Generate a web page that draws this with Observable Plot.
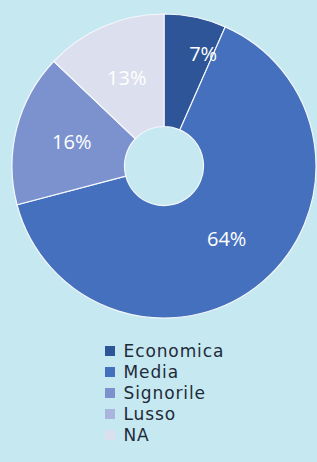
<!DOCTYPE html>
<html>
<head>
<meta charset="utf-8">
<script src="https://cdn.jsdelivr.net/npm/d3@7"></script>
<script src="https://cdn.jsdelivr.net/npm/@observablehq/plot@0.6"></script>
<style>
  html, body { margin: 0; padding: 0; background: #c6e8f0; }
  #chart { width: 317px; height: 462px; overflow: hidden; background: #c6e8f0; }
  #legend { padding-left: 105px; margin-top: 11px; }
  .lg-swatches { font-family: "DejaVu Sans", sans-serif; font-size: 17px; letter-spacing: 0.9px; color: #1e2b3a; margin: 0 !important; }
  .lg-swatch { height: 20.8px; padding-bottom: 0 !important; }
</style>
</head>
<body>
<div id="chart"><div id="plot"></div><div id="legend"></div></div>
<script>
const categories = ["Economica", "Media", "Signorile", "Lusso", "NA"];
const shares = [6.6, 64.3, 16.2, 0, 12.9];
const labels = ["7%", "64%", "16%", "", "13%"];
const colors = ["#2e5597", "#4570be", "#7b92cf", "#a9b5dd", "#dcdfee"];

const innerRatio = 0.26;
const data = categories.map((name, i) => ({name, value: shares[i], label: labels[i]}));
const pie = d3.pie().sort(null).value(d => d.value)(data);
const colorScale = Plot.scale({color: {type: "ordinal", domain: categories, range: colors}});

// label positions in unit-circle coordinates (centroid of each slice; small slices pushed outward)
const labelData = pie.filter(p => p.data.label).map(p => {
  const frac = (p.endAngle - p.startAngle) / (2 * Math.PI);
  const small = frac < 0.1;
  const a = small ? p.startAngle + 0.8 * (p.endAngle - p.startAngle) : (p.startAngle + p.endAngle) / 2;
  const rr = small ? 0.78 : (1 + innerRatio) / 2;
  return {label: p.data.label, x: rr * Math.sin(a), y: rr * Math.cos(a)};
});

function arcs(index, scales) {
  const cx = scales.x(0), cy = scales.y(0), R = scales.x(1) - cx;
  const arc = d3.arc().innerRadius(R * innerRatio).outerRadius(R);
  const g = d3.create("svg:g").attr("transform", `translate(${cx},${cy})`);
  g.selectAll("path").data(pie).join("path")
    .attr("d", arc)
    .attr("fill", d => colorScale.apply(d.data.name))
    .attr("stroke", "#f4f7fb")
    .attr("stroke-width", 1.2);
  return g.node();
}

const plot = Plot.plot({
  width: 317,
  height: 330,
  margin: 0,
  style: {background: "transparent", overflow: "visible"},
  x: {domain: [-1, 1], range: [12, 316], axis: null},
  y: {domain: [-1, 1], range: [318, 14], axis: null},
  marks: [
    arcs,
    Plot.text(labelData, {
      x: "x", y: "y", text: "label",
      fill: "white", fontSize: 20, fontWeight: 400, fontFamily: "Open Sans", letterSpacing: 2.2
    })
  ]
});
document.getElementById("plot").appendChild(plot);

const legend = Plot.legend({
  color: {type: "ordinal", domain: categories, range: colors},
  legend: "swatches",
  columns: 1,
  swatchSize: 10,
  className: "lg"
});
document.getElementById("legend").appendChild(legend);
</script>
</body>
</html>
